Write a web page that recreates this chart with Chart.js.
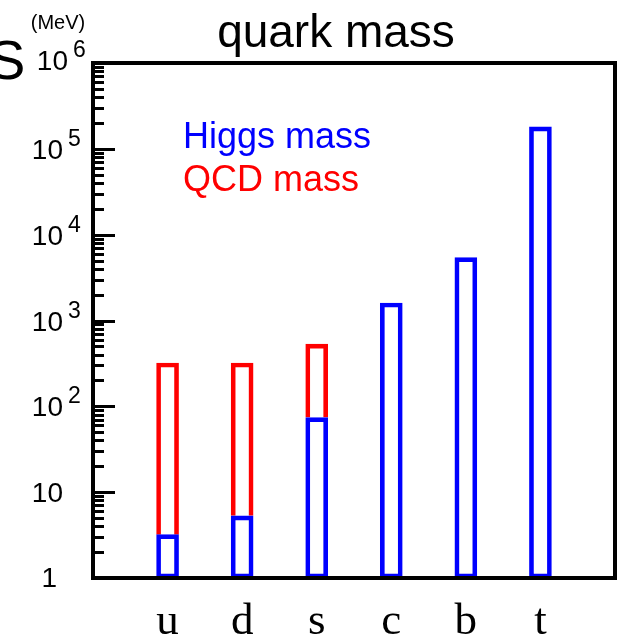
<!DOCTYPE html>
<html>
<head>
<meta charset="utf-8">
<script src="https://cdn.jsdelivr.net/npm/chart.js@4.4.1/dist/chart.umd.min.js"></script>
<style>
  html, body { margin: 0; padding: 0; background: #fff; overflow: hidden; }
  #wrap { width: 618px; height: 643px; position: relative; }
  #massChart { display: block; }
</style>
</head>
<body>
<div id="wrap"><canvas id="massChart"></canvas></div>
<script>
// quark masses in MeV
const quarks = ['u', 'd', 's', 'c', 'b', 't'];
const higgsMass = [3.2, 5.3, 74, 1600, 5400, 180000];
const totalMass = [320, 320, 530, null, null, null];
const decades = [0, 1, 2, 3, 4, 5, 6];

const BLUE = '#0000ff';
const RED = '#ff0000';
const SANS = '"Liberation Sans", Arial, sans-serif';

// blank slots on both ends so the six bars sit on 1..6 of 7 equal steps
const xLabels = [''].concat(quarks, ['']);
const higgsBars = [null].concat(higgsMass.map(v => [1, v]), [null]);
const qcdBars = [null].concat(totalMass.map((v, i) => v === null ? null : [higgsMass[i], v]), [null]);

// frame, inward log ticks and all the text around the plot
const framePlugin = {
    id: 'frame',
    afterDraw(chart) {
        const ctx = chart.ctx;
        const area = chart.chartArea;
        const y = chart.scales.y;
        ctx.save();

        // minor and major ticks on the left axis
        ctx.strokeStyle = '#000';
        ctx.lineWidth = 3;
        decades.forEach(d => {
            if (d === decades[decades.length - 1]) return;
            for (let m = 2; m <= 9; m++) {
                const py = Math.round(y.getPixelForValue(m * Math.pow(10, d))) + 0.5;
                ctx.beginPath();
                ctx.moveTo(area.left, py);
                ctx.lineTo(area.left + 11, py);
                ctx.stroke();
            }
        });
        decades.forEach(d => {
            const py = Math.round(y.getPixelForValue(Math.pow(10, d))) + 0.5;
            ctx.beginPath();
            ctx.moveTo(area.left, py);
            ctx.lineTo(area.left + 22, py);
            ctx.stroke();
        });

        // box around the plot
        ctx.lineWidth = 4;
        ctx.strokeRect(area.left, area.top, area.right - area.left, area.bottom - area.top);

        // y tick labels: 1, 10, 10^2 ... 10^6
        ctx.fillStyle = '#000';
        ctx.textBaseline = 'alphabetic';
        decades.forEach(d => {
            const py = y.getPixelForValue(Math.pow(10, d));
            if (d === 0) {
                ctx.font = '28px ' + SANS;
                ctx.textAlign = 'right';
                ctx.fillText('1', 57, py + 9);
            } else if (d === 1) {
                ctx.font = '28px ' + SANS;
                ctx.textAlign = 'right';
                ctx.fillText('10', 63, py + 10);
            } else {
                // the top label sits a little right and up, under "(MeV)"
                const shift = d === 6 ? 5 : 0;
                const lift = d === 6 ? 3 : 0;
                ctx.font = '28px ' + SANS;
                ctx.textAlign = 'right';
                ctx.fillText('10', 63 + shift, py + 10 - lift);
                ctx.font = '23px ' + SANS;
                ctx.textAlign = 'left';
                ctx.fillText(String(d), 68 + shift, py - 3 - lift);
            }
        });
        ctx.font = '20px ' + SANS;
        ctx.textAlign = 'center';
        ctx.fillText('(MeV)', 58, 29);

        // tail of the heading on the left
        ctx.font = '56px ' + SANS;
        ctx.textAlign = 'left';
        ctx.fillText('S', -12, 79);

        // title
        ctx.font = '46px ' + SANS;
        ctx.textAlign = 'center';
        ctx.fillText('quark mass', 336, 47);

        // legend
        ctx.font = '36px ' + SANS;
        ctx.textAlign = 'left';
        ctx.fillStyle = BLUE;
        ctx.fillText('Higgs mass', 183, 148);
        ctx.fillStyle = RED;
        ctx.fillText('QCD mass', 183, 191);

        ctx.restore();
    }
};

new Chart(document.getElementById('massChart'), {
    type: 'bar',
    data: {
        labels: xLabels,
        datasets: [
            {
                label: 'Higgs mass',
                data: higgsBars,
                borderColor: BLUE,
                backgroundColor: 'rgba(255,255,255,0)',
                borderWidth: 4,
                borderSkipped: false,
                barThickness: 22,
                grouped: false
            },
            {
                label: 'QCD mass',
                data: qcdBars,
                borderColor: RED,
                backgroundColor: 'rgba(255,255,255,0)',
                borderWidth: 4,
                borderSkipped: 'start',
                barThickness: 22,
                grouped: false
            }
        ]
    },
    options: {
        responsive: true,
        maintainAspectRatio: false,
        animation: false,
        layout: { padding: { left: 93, right: 3, top: 63, bottom: 0 } },
        plugins: {
            legend: { display: false },
            tooltip: { enabled: false }
        },
        scales: {
            x: {
                type: 'category',
                offset: false,
                // hidden tick marks only push the labels down
                grid: { display: false, drawTicks: true, tickLength: 17 },
                border: { display: false },
                afterFit: s => { s.height = 65; },
                ticks: {
                    autoSkip: false,
                    maxRotation: 0,
                    padding: 0,
                    color: '#000',
                    font: { family: '"Liberation Serif", "Times New Roman", serif', size: 45 }
                }
            },
            y: {
                type: 'logarithmic',
                display: false,
                min: 1,
                max: 1e6
            }
        }
    },
    plugins: [framePlugin]
});
</script>
</body>
</html>
